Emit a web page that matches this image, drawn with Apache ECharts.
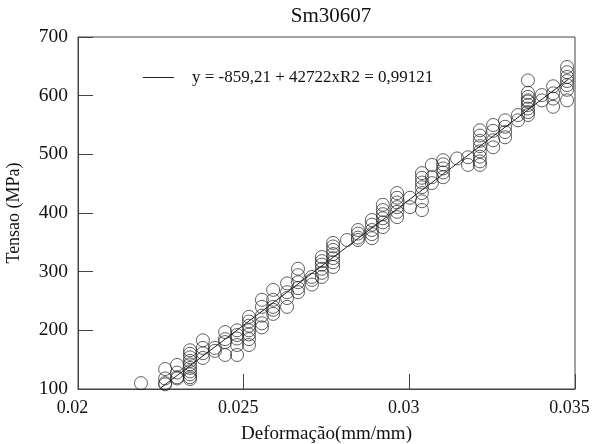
<!DOCTYPE html>
<html>
<head>
<meta charset="utf-8">
<script src="https://cdn.jsdelivr.net/npm/echarts@6/dist/echarts.min.js"></script>
<style>html,body{margin:0;padding:0;background:#fff}#c{width:592px;height:444px}</style>
</head>
<body>
<div id="c"></div>
<script>
// Strain columns (mm/mm) and the stress readings (MPa) stacked at each one
const strain = [0.0219, 0.02263, 0.02299, 0.02338, 0.02377, 0.02413, 0.02444, 0.0248, 0.02516, 0.02555,
  0.02589, 0.02631, 0.02664, 0.02706, 0.02736, 0.0277, 0.02812, 0.02845, 0.02887, 0.0292,
  0.02963, 0.03002, 0.03038, 0.03068, 0.03102, 0.03144, 0.03177, 0.03213, 0.03253, 0.03289,
  0.03328, 0.03358, 0.034, 0.03434, 0.03476];
const stress = [
  [110],
  [134, 118, 110, 108],
  [141, 128, 120, 118],
  [166, 160, 154, 148, 142, 136, 130, 125, 120, 117],
  [183, 170, 161, 153],
  [170, 165],
  [197, 185, 180, 158],
  [200, 192, 186, 175, 158],
  [223, 215, 208, 200, 193, 185, 175],
  [252, 240, 225, 212, 205],
  [269, 252, 240, 235, 228],
  [280, 265, 255, 240],
  [305, 294, 282, 272, 265],
  [291, 286, 278],
  [325, 318, 312, 305, 298, 291],
  [349, 343, 337, 330, 323, 316, 308],
  [354],
  [371, 365, 358, 354],
  [388, 380, 371, 364, 357],
  [414, 405, 398, 391, 384, 376],
  [434, 426, 418, 410, 402, 393],
  [426, 410],
  [468, 460, 452, 444, 434, 420, 405],
  [482, 461, 451],
  [490, 483, 476, 469, 461],
  [493],
  [495, 482],
  [541, 532, 523, 514, 505, 496, 488, 482],
  [550, 540, 524, 512],
  [558, 547, 538, 529],
  [567, 558],
  [626, 605, 598, 592, 590, 584, 578, 572, 567],
  [601, 592],
  [616, 604, 595, 581],
  [649, 640, 632, 625, 618, 610, 592]
];
// Fitted line end points
const fitX = [0.0225, 0.0348];
const fitY = [102, 628];
const fitName = 'y = -859,21 + 42722xR2 = 0,99121';
const xTicks = ['0.02', '0.025', '0.03', '0.035'];
const yTicks = [100, 200, 300, 400, 500, 600, 700];

const points = [];
strain.forEach((x, i) => stress[i].forEach(y => points.push([x, y])));
const fitLine = fitX.map((x, i) => [x, fitY[i]]);

const font = 'Liberation Serif';
const chart = echarts.init(document.getElementById('c'), null, {renderer: 'canvas'});
chart.setOption({
  animation: false,
  backgroundColor: '#fff',
  title: {
    text: 'Sm30607', left: 326, top: 1, textAlign: 'center',
    textStyle: {fontFamily: font, fontSize: 21, fontWeight: 'normal', color: '#111'}
  },
  legend: {
    data: [fitName], left: 138, top: 64, itemWidth: 31, itemHeight: 1, icon: 'rect',
    textStyle: {fontFamily: font, fontSize: 17, color: '#111', padding: [0, 0, 0, 13]}
  },
  grid: {left: 78, right: 17, top: 37, bottom: 55, show: true, borderColor: '#444', borderWidth: 1,
    containLabel: false, outerBoundsMode: 'none'},
  xAxis: {
    type: 'value', min: 0.02, max: 0.035, interval: 0.005,
    name: 'Deformação(mm/mm)', nameLocation: 'middle', nameGap: 36,
    nameTextStyle: {fontFamily: font, fontSize: 19, color: '#111'},
    axisLine: {show: true, lineStyle: {color: '#444'}},
    axisTick: {show: true, inside: true, length: 15, lineStyle: {color: '#444'}},
    axisLabel: {
      fontFamily: font, fontSize: 18, color: '#111', margin: 10,
      formatter: (v, i) => '{v|' + (xTicks[i] ?? v) + '}{s|}',
      rich: {v: {fontFamily: font, fontSize: 18, color: '#111'}, s: {width: 11}}
    },
    splitLine: {show: false}
  },
  yAxis: {
    type: 'value', min: 100, max: 700, interval: 100,
    name: 'Tensao (MPa)', nameLocation: 'middle', nameGap: 55, nameRotate: 90,
    nameTextStyle: {fontFamily: font, fontSize: 18, color: '#111'},
    axisLine: {show: true, lineStyle: {color: '#444'}},
    axisTick: {show: true, inside: true, length: 15, lineStyle: {color: '#444'}},
    axisLabel: {fontFamily: font, fontSize: 19.5, color: '#111', margin: 10,
      formatter: v => String(yTicks.find(t => t === v) ?? v)},
    splitLine: {show: false}
  },
  series: [
    {
      name: 'data', type: 'scatter', data: points, symbol: 'circle', symbolSize: 13,
      itemStyle: {color: 'rgba(0,0,0,0)', borderColor: '#222', borderWidth: 0.9}, z: 3
    },
    {
      name: fitName, type: 'line', data: fitLine, showSymbol: false, symbol: 'none',
      lineStyle: {color: '#222', width: 1}, itemStyle: {color: '#222'}, z: 2
    }
  ]
});
</script>
</body>
</html>
